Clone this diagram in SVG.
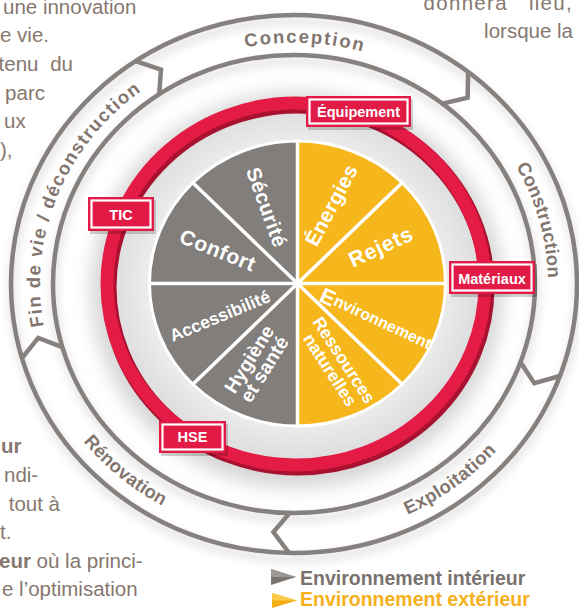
<svg xmlns="http://www.w3.org/2000/svg" width="579" height="610" viewBox="0 0 579 610">
<defs>
<style>
.para{font-family:"Liberation Sans",Arial,sans-serif;font-size:20.5px;fill:#86776f}
.b{font-weight:bold}
.band{fill:none;stroke:#86817e;stroke-width:4.5;stroke-linejoin:miter}
.bshadow{fill:none;stroke:#000;stroke-width:8;opacity:0.10}
.blabel{font-family:"Liberation Sans",Arial,sans-serif;font-size:18.5px;font-weight:bold;fill:#83766f}
.pl{font-family:"Liberation Sans",Arial,sans-serif;font-weight:bold;fill:#fff;text-anchor:middle;dominant-baseline:central}
.tagbox{fill:#e11b45}
.tagshadow{fill:#000;opacity:0.18}
.taginner{fill:none;stroke:#fff;stroke-width:2.2}
.tagtxt{font-family:"Liberation Sans",Arial,sans-serif;font-size:14.5px;font-weight:bold;fill:#fff;text-anchor:middle}
.div{stroke:#fff;stroke-width:3.5;stroke-linecap:round}
.leg{font-family:"Liberation Sans",Arial,sans-serif;font-size:19.5px;font-weight:bold}
</style>
<filter id="blur" x="-20%" y="-20%" width="140%" height="140%"><feGaussianBlur stdDeviation="9"/></filter>
<filter id="soft" x="-10%" y="-10%" width="120%" height="120%"><feGaussianBlur stdDeviation="4"/></filter>
<radialGradient id="disk" cx="50%" cy="50%" r="50%"><stop offset="0.72" stop-color="#f2f2f2"/><stop offset="1" stop-color="#dcdcdc"/></radialGradient>
<path id="pConception" d="M139.4,92.6 A254,241.3 0 0 1 465.6,106.1"/>
<path id="pConstruction" d="M439.7,86.3 A254,241.3 0 0 1 524.2,386.0"/>
<path id="pFin" d="M71.2,399.9 A254,241.3 0 0 1 212.6,55.4"/>
<path id="pExploitation" d="M305.7,538.3 A268,254.6 0 0 0 549.6,360.6"/>
<path id="pRenovation" d="M34.0,345.6 A268,254.6 0 0 0 266.0,537.2"/>
</defs>
<rect width="579" height="610" fill="#fff"/>

<g id="paragraph-text" class="para">
<text x="3" y="14">une innovation</text>
<text x="0" y="42">e vie.</text>
<text x="73" y="71" text-anchor="end" word-spacing="6">tenu du</text>
<text x="45" y="100" text-anchor="end">parc</text>
<text x="4" y="128">ux</text>
<text x="0" y="157">),</text>
<text x="573" y="10" text-anchor="end" letter-spacing="1.3" word-spacing="14">donnera lieu,</text>
<text x="573" y="38" text-anchor="end">lorsque la</text>
<text x="1" y="453" class="b">ur</text>
<text x="4" y="482">ndi-</text>
<text x="60" y="511" text-anchor="end">tout à</text>
<text x="0" y="539">t.</text>
<text x="-1" y="568"><tspan class="b">eur</tspan> où la princi-</text>
<text x="2" y="596">e l’optimisation</text>
</g>

<g id="shadow">
<ellipse cx="297" cy="290" rx="206" ry="198" fill="#d6d6d6" filter="url(#blur)"/>
<g filter="url(#soft)">
<ellipse class="bshadow" cx="295" cy="290" rx="283" ry="269"/>
<ellipse class="bshadow" cx="295" cy="290" rx="241" ry="229"/>
</g>
</g>

<g id="lifecycle-band">
<ellipse class="band" cx="294" cy="284" rx="283" ry="269"/>
<ellipse class="band" cx="294" cy="284" rx="241" ry="229"/>
</g>

<g id="connectors">
<polyline class="band" points="559.9,376.0 534.3,383.2 520.5,362.3"/>
<polyline class="band" points="289.1,553.0 273.4,532.1 289.8,512.9"/>
<polyline class="band" points="22.0,358.1 38.2,337.9 62.3,347.1"/>
<polyline class="band" points="135.7,61.1 161.0,69.6 159.2,94.2"/>
<polyline class="band" points="468.2,72.1 467.6,97.6 442.4,103.6"/>
</g>

<g id="phase-conception"><text class="blabel" letter-spacing="1.8"><textPath href="#pConception" startOffset="50%" text-anchor="middle">Conception</textPath></text></g>
<g id="phase-construction"><text class="blabel" letter-spacing="0.2"><textPath href="#pConstruction" startOffset="50%" text-anchor="middle">Construction</textPath></text></g>
<g id="phase-exploitation"><text class="blabel" letter-spacing="0.4"><textPath href="#pExploitation" startOffset="50%" text-anchor="middle">Exploitation</textPath></text></g>
<g id="phase-renovation"><text class="blabel" letter-spacing="0.2"><textPath href="#pRenovation" startOffset="50%" text-anchor="middle">Rénovation</textPath></text></g>
<g id="phase-fin-de-vie"><text class="blabel" letter-spacing="1.3"><textPath href="#pFin" startOffset="50%" text-anchor="middle">Fin de vie / déconstruction</textPath></text></g>

<g id="red-ring">
<ellipse cx="296" cy="284" rx="186" ry="178" fill="url(#disk)"/>
<ellipse cx="298" cy="287" rx="189" ry="181" fill="none" stroke="#a8112f" stroke-width="15"/>
<ellipse cx="296" cy="284" rx="189" ry="181" fill="none" stroke="#e31b45" stroke-width="13"/>
</g>

<g id="pie">
<path d="M297.5,141 A148,142.5 0 0 0 297.5,426 Z" fill="#827e7b"/>
<path d="M297.5,141 A148,142.5 0 0 1 297.5,426 Z" fill="#f6b71c"/>
<line class="div" x1="297.5" y1="141" x2="297.5" y2="426"/>
<line class="div" x1="149.5" y1="283.5" x2="445.5" y2="283.5"/>
<line class="div" x1="192.85" y1="182.74" x2="402.15" y2="384.26"/>
<line class="div" x1="192.85" y1="384.26" x2="402.15" y2="182.74"/>
<ellipse cx="297.5" cy="283.5" rx="148" ry="142.5" fill="none" stroke="#fff" stroke-width="3"/>
</g>

<g id="sector-securite"><text class="pl" font-size="20.5" letter-spacing="0.3" transform="translate(267,207) rotate(70)">Sécurité</text></g>
<g id="sector-confort"><text class="pl" font-size="21" letter-spacing="0.6" transform="translate(218,250) rotate(22)">Confort</text></g>
<g id="sector-accessibilite"><text class="pl" font-size="17.5" transform="translate(220,316) rotate(-22.5)">Accessibilité</text></g>
<g id="sector-hygiene"><text class="pl" font-size="19.5" transform="translate(249,359) rotate(-58)">Hygiène</text><text class="pl" font-size="19.5" transform="translate(264,369) rotate(-58)">et santé</text></g>
<g id="sector-energies"><text class="pl" font-size="20.5" letter-spacing="0.3" transform="translate(331,205) rotate(-62)">Énergies</text></g>
<g id="sector-rejets"><text class="pl" font-size="21.5" letter-spacing="0.6" transform="translate(381,247) rotate(-25)">Rejets</text></g>
<g id="sector-environnement"><text class="pl" font-size="16" transform="translate(376,319) rotate(25)"><tspan font-size="22">E</tspan>nvironnement</text></g>
<g id="sector-ressources"><text class="pl" font-size="17.5" transform="translate(344,360) rotate(57)">Ressources</text><text class="pl" font-size="17.5" transform="translate(330,370) rotate(57)">naturelles</text></g>

<g id="tag-equipement">
<rect class="tagshadow" x="308" y="99" width="105" height="31"/>
<rect class="tagbox" x="306" y="96" width="105" height="31"/>
<rect class="taginner" x="309.5" y="99.5" width="98" height="24"/>
<text class="tagtxt" x="358.5" y="117">Équipement</text>
</g>
<g id="tag-materiaux">
<rect class="tagshadow" x="451" y="264" width="86" height="33"/>
<rect class="tagbox" x="449" y="261" width="86" height="33"/>
<rect class="taginner" x="452.5" y="264.5" width="79" height="26"/>
<text class="tagtxt" x="492" y="283.5">Matériaux</text>
</g>
<g id="tag-tic">
<rect class="tagshadow" x="90" y="200" width="66" height="34"/>
<rect class="tagbox" x="88" y="197" width="66" height="34"/>
<rect class="taginner" x="91.5" y="200.5" width="59" height="27"/>
<text class="tagtxt" x="121" y="219.5">TIC</text>
</g>
<g id="tag-hse">
<rect class="tagshadow" x="161" y="424" width="67" height="32"/>
<rect class="tagbox" x="159" y="421" width="67" height="32"/>
<rect class="taginner" x="162.5" y="424.5" width="60" height="25"/>
<text class="tagtxt" x="192.5" y="442">HSE</text>
</g>

<g id="legend">
<polygon points="271,569 296,577 271,585" fill="#7b7571"/>
<polygon points="271,569 296,577 271,577" fill="#9e9894"/>
<text class="leg" x="300" y="585" fill="#7a726e">Environnement intérieur</text>
<polygon points="272,593 297,600.5 272,608" fill="#f4ac15"/>
<polygon points="272,593 297,600.5 272,600.5" fill="#fbc94a"/>
<text class="leg" x="300" y="606" fill="#f5b01c">Environnement extérieur</text>
</g>
</svg>
